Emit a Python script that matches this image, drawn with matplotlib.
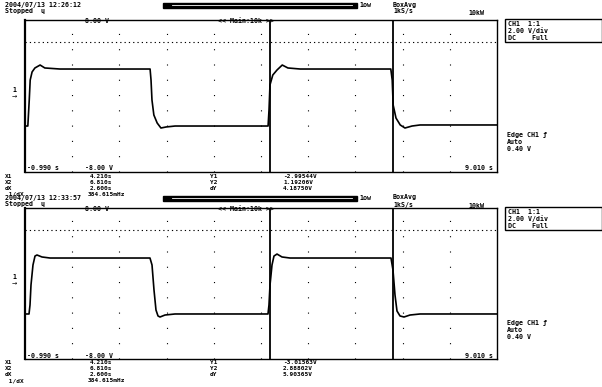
import matplotlib
matplotlib.use("Agg")
import matplotlib.pyplot as plt
from matplotlib.patches import Rectangle
from matplotlib.transforms import Affine2D, blended_transform_factory

# waveform readings (time in s, level in V)
top_t = [-0.99, -0.93, -0.90, -0.88, -0.84, -0.78, -0.67, -0.57, -0.25, 1.66, 1.68, 1.70,
         1.74, 1.81, 1.89, 2.00, 2.19, 4.16, 4.18, 4.20, 4.26, 4.35, 4.46, 4.58, 4.84,
         6.76, 6.79, 6.81, 6.87, 6.96, 7.06, 7.21, 7.38, 9.01]
top_v = [-3.16, -3.16, -0.42, 1.68, 2.53, 2.95, 3.26, 2.95, 2.84, 2.84, 1.68, -0.42,
         -2.00, -2.84, -3.37, -3.26, -3.16, -3.16, -1.47, 1.16, 2.21, 2.74, 3.26, 2.95, 2.84,
         2.84, 1.68, -0.95, -2.32, -3.05, -3.37, -3.16, -3.05, -3.05]

bot_t = [-0.99, -0.905, -0.884, -0.863, -0.821, -0.778, -0.736, -0.630, -0.460, 1.658,
         1.701, 1.743, 1.785, 1.828, 1.870, 1.976, 2.188, 4.158, 4.179, 4.201, 4.243,
         4.285, 4.349, 4.455, 4.624, 6.764, 6.806, 6.849, 6.891, 6.955, 7.040, 7.167,
         7.379, 9.01]
bot_v = [-3.23, -3.23, -2.28, -0.16, 1.96, 2.91, 3.02, 2.81, 2.70, 2.70,
         1.96, -0.69, -2.81, -3.44, -3.55, -3.34, -3.23, -3.23, -2.28, -0.16, 1.96,
         2.91, 3.12, 2.81, 2.70, 2.70, 1.43, -1.22, -2.91, -3.44, -3.55, -3.34,
         -3.23, -3.23]

x1, x2 = 4.210, 6.810
t_min, t_max = -0.99, 9.01
v_min, v_max = -8.0, 8.0

stamps = ["2004/07/13 12:26:12", "2004/07/13 12:33:57"]
y1_txt = ["-2.99544V", "-3.01563V"]
y2_txt = ["1.19206V", "2.88802V"]
dy_txt = ["4.18750V", "5.90365V"]

plt.rcParams["lines.scale_dashes"] = False
font = {"family": "DejaVu Sans Mono", "weight": "bold", "size": 4.8}
small = {"family": "DejaVu Sans Mono", "weight": "bold", "size": 4.4}

fig = plt.figure(figsize=(6.02, 3.87), dpi=100)
fig.patch.set_facecolor("white")
T = Affine2D().scale(1 / 602, -1 / 387).translate(0, 1) + fig.transFigure


def txt(x, y, s, fd=font, **kw):
    fig.text(x, y, s, transform=T, va="center", fontdict=fd, **kw)


panels = [(20, 172, 5, top_t, top_v), (208, 359, 198, bot_t, bot_v)]
for k, (ytop, ybot, hy, t, v) in enumerate(panels):
    ax = fig.add_axes([25 / 602, 1 - ybot / 387, 472 / 602, (ybot - ytop) / 387])
    ax.set_xlim(t_min, t_max)
    ax.set_ylim(v_min, v_max)
    ax.set_xticks([])
    ax.set_yticks([])
    for s in ax.spines.values():
        s.set_linewidth(1.0)
    ax.spines["left"].set_linewidth(1.6)
    # grid: vertical dotted columns + one dotted row
    for d in range(1, 10):
        ax.axvline(t_min + d, color="black", lw=0.8, ls=(0, (0.8, 10.2)))
    ax.axhline(5.7, color="black", lw=0.8, ls=(0, (0.9, 2.2)))
    # cursors
    ax.axvline(x1, color="black", lw=1.3)
    ax.axvline(x2, color="black", lw=1.3)
    ax.plot(t, v, color="black", lw=1.2)
    # ground marker
    bt = blended_transform_factory(ax.transAxes, ax.transData)
    ax.text(-0.022, 0.65, "1", transform=bt, fontdict=font, ha="center", va="center",
            clip_on=False)
    ax.text(-0.022, 0.05, "\u2192", transform=bt, fontsize=4.5, ha="center", va="center",
            clip_on=False)

    # labels in the frame
    txt(85, ytop + 1, "8.00 V")
    txt(218, ytop + 1, "<< Main:10k >>")
    txt(27, ybot - 3.5, "%.3f s" % t_min)
    txt(85, ybot - 3.5, "-8.00 V")
    txt(493, ybot - 3.5, "%.3f s" % t_max, ha="right")

    # header
    txt(5, hy, stamps[k])
    txt(5, hy + 6, "Stopped  \u0265")
    fig.patches.append(Rectangle((163, hy - 2.5), 194, 5, transform=T,
                                 facecolor="black", edgecolor="black"))
    fig.add_artist(plt.Line2D([172, 352], [hy, hy], transform=T, color="white", lw=0.6))
    txt(359, hy, "1ow")
    txt(393, hy - 0.5, "BoxAvg")
    txt(393, hy + 6.5, "1kS/s")
    txt(468, hy + 8, "10kW")

    # channel box
    fig.patches.append(Rectangle((505, ytop - 1), 97, 23, transform=T,
                                 facecolor="none", edgecolor="black", lw=1.0))
    txt(508, ytop + 3.5, "CH1  1:1")
    txt(508, ytop + 10.5, "2.00 V/div")
    txt(508, ytop + 17.5, "DC    Full")

    # trigger
    txt(507, ytop + 115, "Edge CH1 \u0192")
    txt(507, ytop + 122, "Auto")
    txt(507, ytop + 129, "0.40 V")

    # cursor readout
    rows = [("X1", "%.3fs" % x1, "Y1", y1_txt[k]),
            ("X2", "%.3fs" % x2, "Y2", y2_txt[k]),
            ("dX", "%.3fs" % (x2 - x1), "dY", dy_txt[k]),
            (" 1/dX", "%.3fmHz" % (1000 / (x2 - x1)), "", "")]
    for i, (a, b, c, d) in enumerate(rows):
        ry = ybot + 4 + i * 6
        txt(5, ry, a, small)
        txt(90 if i < 3 else 88, ry, b, small)
        txt(210, ry, c, small)
        txt(283, ry, d, small)

fig.savefig("out.png", dpi=100, facecolor="white")
